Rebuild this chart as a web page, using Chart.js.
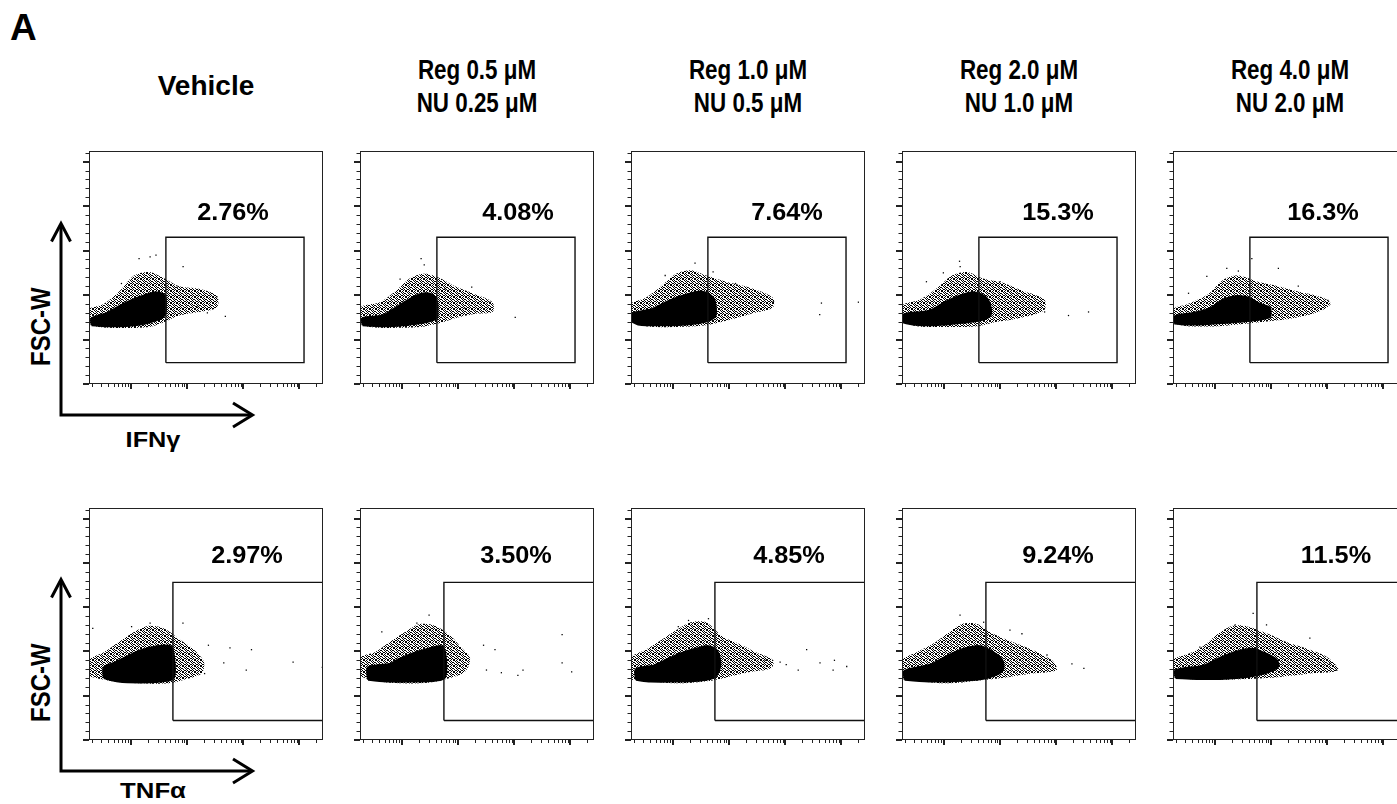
<!DOCTYPE html>
<html>
<head>
<meta charset="utf-8">
<title>IFNγ / TNFα vs FSC-W</title>
<script src="https://cdn.jsdelivr.net/npm/chart.js@4.4.1/dist/chart.umd.min.js"></script>
<style>
  html, body { margin: 0; padding: 0; background: #fff; }
  #fig { position: relative; width: 1397px; height: 804px; overflow: hidden; }
  #fig canvas { position: absolute; }
  #overlay { position: absolute; left: 0; top: 0; }
  #overlay text { font-family: "Liberation Sans", Arial, Helvetica, sans-serif; font-weight: bold; fill: #000; }
</style>
</head>
<body>
<div id="fig">
  <svg id="overlay" width="1397" height="804"></svg>
</div>
<script>
// ---- data ----
const titleLine1 = ['Vehicle', 'Reg 0.5 μM', 'Reg 1.0 μM', 'Reg 2.0 μM', 'Reg 4.0 μM'];
const titleLine2 = ['', 'NU 0.25 μM', 'NU 0.5 μM', 'NU 1.0 μM', 'NU 2.0 μM'];
const rowMarkers = ['IFNγ', 'TNFα'];
const yAxisName = 'FSC-W';

const ifnPercent = ['2.76%', '4.08%', '7.64%', '15.3%', '16.3%'];
const tnfPercent = ['2.97%', '3.50%', '4.85%', '9.24%', '11.5%'];

// gates (x = fluorescence, y = FSC-W in K)
const ifnGateX = [420, 120500];
const ifnGateY = [24, 165];
const tnfGateX = [560, 262144];
const tnfGateY = [22, 178];

// dense core of each cloud, outline [x, y]
const ifnCore = [
  [[20,66],[20,74],[35,79],[56,86],[110,95],[200,101],[290,103],[405,99],[420,88],[405,78],[290,72],[146,67],[64,65],[35,65]],
  [[20,66],[20,74],[46,77],[70,84],[118,93],[210,101],[330,101],[420,93],[430,80],[420,74],[250,69],[105,66],[55,65]],
  [[19,70],[19,79],[42,84],[83,93],[165,100],[325,104],[520,97],[580,86],[565,76],[375,70],[165,67],[55,66],[24,67]],
  [[19,69],[19,78],[53,82],[105,92],[208,100],[355,103],[570,97],[680,86],[660,76],[410,71],[158,68],[61,66],[28,67]],
  [[19,68],[19,76],[41,80],[82,85],[141,95],[247,99],[395,97],[630,90],[950,86],[980,80],[950,75],[420,71],[163,69],[54,67],[28,67]]
];
// sparser halo round each core
const ifnHalo = [
  [[18,68],[18,84],[33,90],[62,104],[114,122],[210,126],[389,119],[718,110],[1630,107],[3400,99],[3400,86],[1630,81],[718,77],[405,70],[210,64],[62,63],[27,64]],
  [[18,68],[18,86],[41,92],[76,104],[140,119],[258,124],[478,119],[881,110],[2000,101],[4100,92],[4100,81],[2000,79],[881,74],[440,68],[210,64],[62,63],[27,64]],
  [[18,70],[18,90],[33,97],[62,110],[114,124],[210,128],[389,122],[881,115],[2450,108],[6000,97],[6000,86],[2450,79],[881,71],[389,66],[114,64],[33,65]],
  [[18,70],[18,88],[38,95],[76,108],[140,122],[258,126],[478,119],[1080,114],[2250,106],[6100,95],[6100,83],[2200,74],[880,70],[390,65],[93,64],[33,65]],
  [[18,68],[18,84],[33,90],[76,101],[140,117],[258,122],[586,115],[1330,110],[3010,104],[8400,97],[11500,90],[6800,81],[2450,74],[1080,71],[389,68],[114,65],[33,65]]
];
// single stray events
const ifnDots = [
  [[140,141],[220,143],[280,145],[850,132],[3400,98],[4800,76],[2300,80],[68,113],[670,109],[1480,87]],
  [[220,141],[250,134],[1750,109],[3700,92],[10400,75],[1330,85],[93,118],[586,107]],
  [[248,136],[520,126],[73,122],[1300,113],[3600,102],[6100,93],[44000,91],[41000,78],[200000,92]],
  [[190,138],[195,132],[98,125],[49,115],[1000,115],[6200,81],[16500,77],[37500,81]],
  [[163,130],[262,127],[72,121],[1350,130],[3050,110],[10300,94],[34,102],[455,141]]
];

const tnfCore = [
  [[33,70],[33,82],[50,87],[84,94],[146,101],[290,106],[500,106],[580,96],[580,70],[330,66],[146,65],[60,66]],
  [[25,68],[25,82],[62,86],[86,91],[160,98],[300,103],[500,106],[590,99],[590,71],[389,67],[150,66],[60,66]],
  [[22,68],[22,80],[45,84],[68,89],[125,97],[250,103],[430,106],[610,101],[700,85],[560,71],[285,67],[109,66],[40,66]],
  [[20,68],[20,78],[57,85],[114,95],[230,103],[440,106],[718,100],[1100,90],[1100,78],[586,70],[210,67],[62,66]],
  [[20,70],[20,79],[63,84],[125,93],[250,100],[450,103],[720,99],[1240,91],[1350,83],[830,76],[370,71],[125,69],[47,69]]
];
const tnfHalo = [
  [[18,72],[18,90],[33,99],[62,111],[114,122],[210,129],[389,126],[760,113],[1330,102],[2000,88],[1800,75],[880,68],[478,64],[140,64],[41,67]],
  [[18,72],[18,93],[33,99],[62,111],[114,122],[210,131],[389,129],[760,117],[1080,106],[1630,93],[1330,77],[718,70],[317,65],[93,64],[33,67]],
  [[18,68],[18,93],[33,102],[62,113],[114,124],[210,133],[389,133],[760,117],[1330,110],[3010,99],[6100,90],[5570,81],[2450,77],[1080,72],[478,67],[114,64],[33,67]],
  [[18,70],[18,90],[33,99],[62,108],[114,120],[210,131],[389,131],[750,120],[1630,111],[3700,102],[8390,90],[10200,79],[3700,75],[1080,70],[389,67],[114,64],[33,67]],
  [[18,72],[18,90],[33,97],[62,106],[114,120],[210,129],[389,128],[881,120],[1830,111],[4940,102],[10300,93],[15600,79],[4940,75],[1330,71],[389,69],[114,68],[33,69]]
];
const tnfDots = [
  [[103,128],[220,132],[845,132],[2400,107],[5800,104],[14000,102],[77000,88],[11300,79],[4500,87],[2050,75],[21,126],[255000,82]],
  [[305,141],[185,132],[44,122],[2840,107],[4540,102],[71000,119],[71000,87],[105000,77],[14300,79],[5900,76],[3200,79],[11600,73]],
  [[190,135],[125,128],[430,137],[24000,102],[8100,88],[17000,79],[41500,87],[75000,90],[124000,83],[71000,79],[10400,85],[4400,90]],
  [[194,141],[510,133],[2450,120],[6840,96],[19000,86],[31000,81],[1500,124]],
  [[480,143],[230,130],[830,130],[4900,115],[7000,92],[14500,79],[54,105],[11000,87]]
];

// axis ranges and tick positions
const X_MIN = 18, X_MAX = 262144;
const Y_MIN = 0, Y_MAX = 262;
const xDecades = [10, 100, 1000, 10000, 100000];
const yMajor = [0, 50, 100, 150, 200, 250];

// ---- layout (pixels) ----
const PANEL_LEFT = [89, 360, 631, 902, 1173];
const PANEL_W = 234;
const ROW_TOP = [151, 508];
const ROW_H = [233, 232];
const PAD = { left: 12, right: 12, top: 4, bottom: 10 };
const LABEL_DX = [[144, 158, 156, 156, 150], [158, 156, 158, 156, 163]];
const LABEL_DY = [170.5, 183.3];
const FONT = '"Liberation Sans", Arial, Helvetica, sans-serif';

const fig = document.getElementById('fig');
const svg = document.getElementById('overlay');
const NS = 'http://www.w3.org/2000/svg';

function svgEl(tag, attrs, txt) {
  const e = document.createElementNS(NS, tag);
  for (const k in attrs) e.setAttribute(k, attrs[k]);
  if (txt) e.textContent = txt;
  svg.appendChild(e);
  return e;
}

// speckle used for the sparse halo, so it reads as scattered events
const SPECKLE = [[0,0],[3,0],[4,0],[1,1],[5,1],[0,2],[2,2],[3,2],[1,3],[4,3],[0,4],[2,4],[5,4],[1,5],[3,5],[4,5]];
function speckle() {
  const t = document.createElement('canvas');
  t.width = 6; t.height = 6;
  const g = t.getContext('2d');
  g.fillStyle = '#000';
  SPECKLE.forEach(p => g.fillRect(p[0], p[1], 1, 1));
  return g.createPattern(t, 'repeat');
}
const HALO_FILL = speckle();

const pts = arr => arr.map(p => ({ x: p[0], y: p[1] }));
const closed = arr => pts(arr.concat([arr[0]]));

const framePlugin = {
  id: 'flowFrame',
  afterDraw(chart, args, opts) {
    const { ctx, chartArea: a, scales: { x, y } } = chart;
    ctx.save();
    ctx.strokeStyle = '#222';
    ctx.lineWidth = 1;
    ctx.strokeRect(a.left + 0.5, a.top + 0.5, a.right - a.left - 1, a.bottom - a.top - 1);

    // minor ticks
    ctx.beginPath();
    xDecades.forEach(d => {
      for (let k = 2; k < 10; k++) {
        const v = d * k;
        if (v < X_MIN || v > X_MAX) continue;
        const px = Math.round(x.getPixelForValue(v)) + 0.5;
        ctx.moveTo(px, a.bottom);
        ctx.lineTo(px, a.bottom + 3);
      }
    });
    for (let v = Y_MIN; v <= Y_MAX; v += 10) {
      if (v % 50 === 0) continue;
      const py = Math.round(y.getPixelForValue(v)) + 0.5;
      ctx.moveTo(a.left, py);
      ctx.lineTo(a.left - 3.5, py);
    }
    ctx.stroke();

    // major ticks
    ctx.lineWidth = 2;
    ctx.beginPath();
    xDecades.forEach(d => {
      if (d < X_MIN) return;
      const px = Math.round(x.getPixelForValue(d));
      ctx.moveTo(px, a.bottom);
      ctx.lineTo(px, a.bottom + 5);
    });
    yMajor.forEach(v => {
      const py = Math.round(y.getPixelForValue(v));
      ctx.moveTo(a.left, py);
      ctx.lineTo(a.left - 6, py);
    });
    ctx.stroke();

    // gate frequency
    ctx.fillStyle = '#000';
    ctx.font = 'bold 23px ' + FONT;
    ctx.textAlign = 'center';
    ctx.textBaseline = 'middle';
    ctx.translate(a.left + opts.dx, a.bottom - opts.dy);
    ctx.scale(1.1, 1);
    ctx.fillText(opts.label, 0, 0);
    ctx.restore();
  }
};

function makePanel(row, i) {
  const core = row === 0 ? ifnCore[i] : tnfCore[i];
  const halo = row === 0 ? ifnHalo[i] : tnfHalo[i];
  const dots = row === 0 ? ifnDots[i] : tnfDots[i];
  const gx = row === 0 ? ifnGateX : tnfGateX;
  const gy = row === 0 ? ifnGateY : tnfGateY;
  const label = row === 0 ? ifnPercent[i] : tnfPercent[i];

  const W = PANEL_W + PAD.left + PAD.right;
  const H = ROW_H[row] + PAD.top + PAD.bottom;
  const cv = document.createElement('canvas');
  cv.width = W; cv.height = H;
  cv.style.left = (PANEL_LEFT[i] - PAD.left) + 'px';
  cv.style.top = (ROW_TOP[row] - PAD.top) + 'px';
  fig.appendChild(cv);

  const gate = [[gx[0], gy[0]], [gx[0], gy[1]], [gx[1], gy[1]], [gx[1], gy[0]], [gx[0], gy[0]]];

  new Chart(cv, {
    type: 'line',
    data: {
      datasets: [
        { data: pts(gate), borderColor: '#111', borderWidth: 1.4, pointRadius: 0, fill: false, tension: 0 },
        { data: pts(dots), showLine: false, pointStyle: 'rect', pointRadius: 0.9, pointBackgroundColor: '#000', pointBorderWidth: 0 },
        { data: closed(core), borderColor: '#000', borderWidth: 2, backgroundColor: '#000', fill: 'shape', pointRadius: 0, tension: 0.3 },
        { data: closed(halo), borderColor: 'rgba(0,0,0,0)', borderWidth: 1, backgroundColor: HALO_FILL, fill: 'shape', pointRadius: 0, tension: 0.3 }
      ]
    },
    options: {
      responsive: false,
      animation: false,
      events: [],
      layout: { padding: PAD },
      plugins: {
        legend: { display: false },
        tooltip: { enabled: false },
        flowFrame: { label: label, dx: LABEL_DX[row][i], dy: LABEL_DY[row] }
      },
      scales: {
        x: { type: 'logarithmic', min: X_MIN, max: X_MAX, display: false },
        y: { type: 'linear', min: Y_MIN, max: Y_MAX, display: false }
      }
    },
    plugins: [framePlugin]
  });
}

for (let r = 0; r < 2; r++) for (let i = 0; i < 5; i++) makePanel(r, i);

// ---- text and arrows ----
svgEl('text', { x: 10, y: 39.5, 'font-size': 37 }, 'A');
titleLine1.forEach((t, i) => {
  const cx = PANEL_LEFT[i] + PANEL_W / 2;
  if (!titleLine2[i]) {
    svgEl('text', { x: cx, y: 95, 'font-size': 28, 'text-anchor': 'middle' }, t);
  } else {
    svgEl('text', { transform: `translate(${cx},78.5) scale(0.8,1)`, 'font-size': 28, 'text-anchor': 'middle' }, t);
    svgEl('text', { transform: `translate(${cx},111.5) scale(0.8,1)`, 'font-size': 28, 'text-anchor': 'middle' }, titleLine2[i]);
  }
});

const ROW_SHIFT = [0, 356];
ROW_SHIFT.forEach((s, r) => {
  svgEl('path', { d: `M61,${224 + s} L61,${415 + s} L252,${415 + s}`, fill: 'none', stroke: '#000', 'stroke-width': 3 });
  svgEl('path', { d: `M51.5,${241.5 + s} L61,${223.5 + s} L70.5,${241.5 + s}`, fill: 'none', stroke: '#000', 'stroke-width': 3 });
  svgEl('path', { d: `M233,${403 + s} L252.5,${415 + s} L233,${427 + s}`, fill: 'none', stroke: '#000', 'stroke-width': 3 });
  svgEl('text', { transform: `translate(49.8,${326.7 + s}) scale(1.15,1) rotate(-90)`, 'font-size': 24, 'text-anchor': 'middle' }, yAxisName);
});
svgEl('text', { transform: 'translate(153,446.7) scale(1.15,1)', 'font-size': 22, 'text-anchor': 'middle' }, rowMarkers[0]);
svgEl('text', { transform: 'translate(153,798) scale(1.12,1)', 'font-size': 23, 'text-anchor': 'middle' }, rowMarkers[1]);
</script>
</body>
</html>
